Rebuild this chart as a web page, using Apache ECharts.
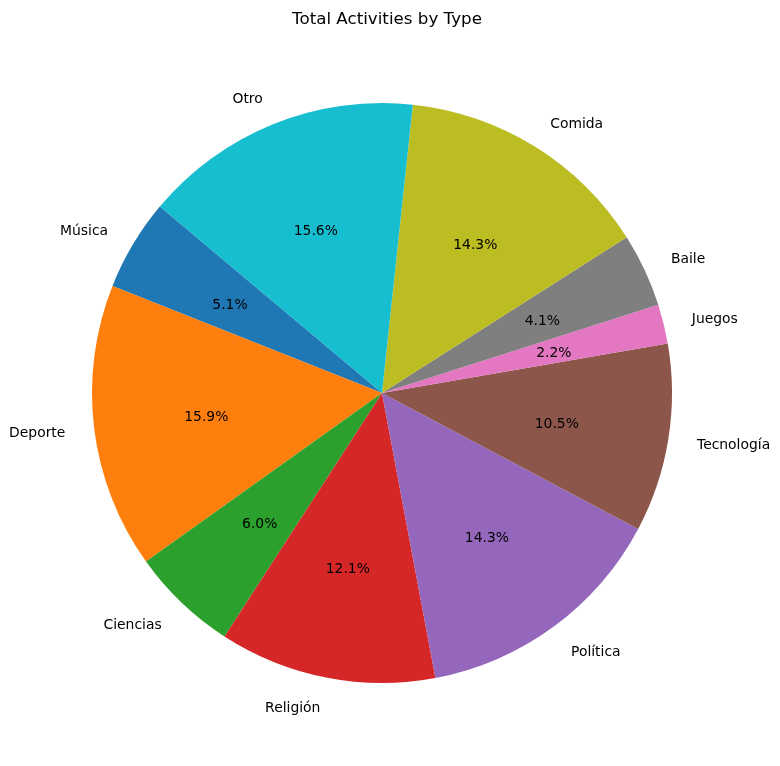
<!DOCTYPE html>
<html>
<head>
<meta charset="utf-8">
<script src="https://cdn.jsdelivr.net/npm/echarts@6/dist/echarts.min.js"></script>
<style>
  html, body { margin: 0; padding: 0; background: #fff; }
  #main { width: 780px; height: 766px; }
</style>
</head>
<body>
<div id="main"></div>
<script>
// categorias y porcentajes
var tipos = ['Música', 'Deporte', 'Ciencias', 'Religión', 'Política', 'Tecnología', 'Juegos', 'Baile', 'Comida', 'Otro'];
var porcentajes = [5.1, 15.9, 6.0, 12.1, 14.3, 10.5, 2.2, 4.1, 14.3, 15.6];
var colores = ['#1f77b4', '#ff7f0e', '#2ca02c', '#d62728', '#9467bd', '#8c564b', '#e377c2', '#7f7f7f', '#bcbd22', '#17becf'];

var R = 290; // radio del pie
var fuente = 'DejaVu Sans, sans-serif';

let chartPie = echarts.init(document.getElementById('main'));

let datosPie = tipos.map(function (t, i) {
    return { name: t, value: porcentajes[i], itemStyle: { color: colores[i] } };
});

let optionPie = {
    backgroundColor: '#ffffff',
    animation: false,
    title: {
        text: 'Total Activities by Type',
        left: 382,
        top: 6,
        textAlign: 'center',
        textStyle: { fontFamily: fuente, fontSize: 16.7, fontWeight: 'normal', color: '#000' }
    },
    series: [
        {
            // pastel + etiquetas de nombre afuera
            type: 'pie',
            center: [382, 393],
            radius: [0, R],
            startAngle: 140,
            clockwise: false,
            avoidLabelOverlap: false,
            itemStyle: { borderWidth: 0 },
            label: {
                show: true,
                position: 'outside',
                formatter: '{b}',
                fontFamily: fuente,
                fontSize: 13.9,
                color: '#000',
                distanceToLabelLine: 0,
                alignTo: 'none'
            },
            labelLayout: { dy: 2 },
            labelLine: { show: false, length: R * 0.1, length2: 0 },
            emphasis: { disabled: true },
            data: datosPie
        },
        {
            // etiquetas de porcentaje a 0.6R
            type: 'pie',
            center: [382, 393],
            radius: [R * 0.5, R * 0.7],
            startAngle: 140,
            clockwise: false,
            silent: true,
            itemStyle: { color: 'transparent', borderWidth: 0 },
            label: {
                show: true,
                position: 'inside',
                formatter: function (p) { return p.value.toFixed(1) + '%'; },
                fontFamily: fuente,
                fontSize: 13.9,
                color: '#000'
            },
            labelLayout: { dy: 3 },
            labelLine: { show: false },
            data: tipos.map(function (t, i) {
                return { name: t, value: porcentajes[i] };
            })
        }
    ]
};

chartPie.setOption(optionPie);
</script>
</body>
</html>
